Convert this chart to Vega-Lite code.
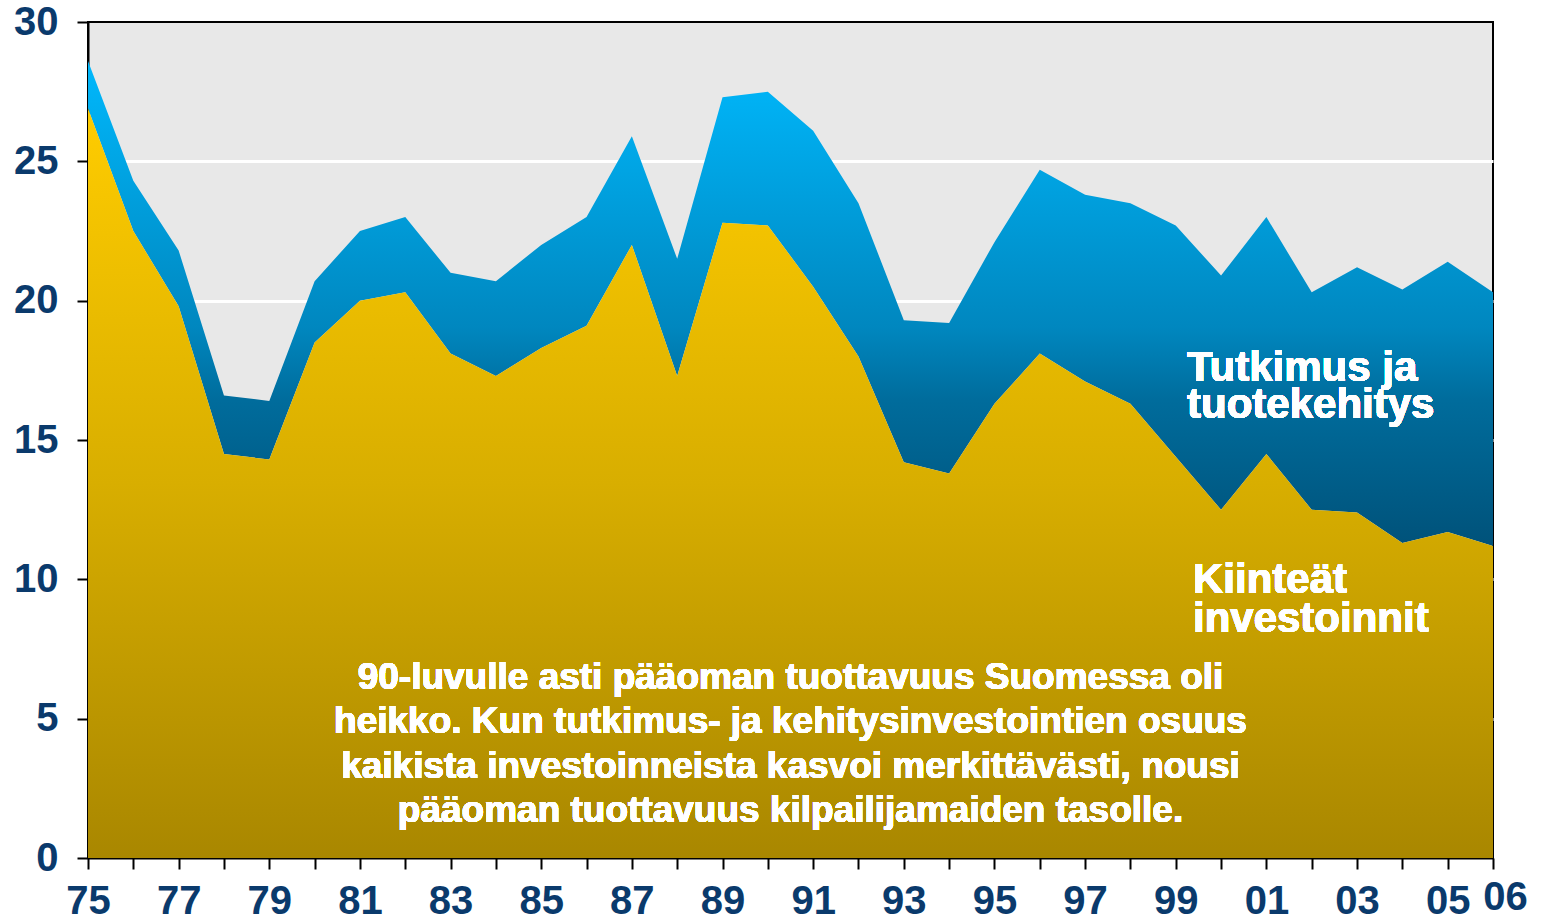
{
  "$schema": "https://vega.github.io/schema/vega-lite/v6.json",
  "width": 1405,
  "height": 836,
  "autosize": {"type": "none"},
  "padding": {"left": 88, "top": 22, "right": 50, "bottom": 65},
  "background": "white",
  "config": {
    "view": {"fill": "#E8E8E8", "stroke": "#000000", "strokeWidth": 2},
    "font": "Liberation Sans"
  },
  "data": {
    "values": [
      {"year": 1975, "fixed": 26.9, "total": 28.6},
      {"year": 1976, "fixed": 22.5, "total": 24.3},
      {"year": 1977, "fixed": 19.8, "total": 21.8},
      {"year": 1978, "fixed": 14.5, "total": 16.6},
      {"year": 1979, "fixed": 14.3, "total": 16.4},
      {"year": 1980, "fixed": 18.5, "total": 20.7},
      {"year": 1981, "fixed": 20.0, "total": 22.5},
      {"year": 1982, "fixed": 20.3, "total": 23.0},
      {"year": 1983, "fixed": 18.1, "total": 21.0},
      {"year": 1984, "fixed": 17.3, "total": 20.7},
      {"year": 1985, "fixed": 18.3, "total": 22.0},
      {"year": 1986, "fixed": 19.1, "total": 23.0},
      {"year": 1987, "fixed": 22.0, "total": 25.9},
      {"year": 1988, "fixed": 17.3, "total": 21.5},
      {"year": 1989, "fixed": 22.8, "total": 27.3},
      {"year": 1990, "fixed": 22.7, "total": 27.5},
      {"year": 1991, "fixed": 20.5, "total": 26.1},
      {"year": 1992, "fixed": 18.0, "total": 23.5},
      {"year": 1993, "fixed": 14.2, "total": 19.3},
      {"year": 1994, "fixed": 13.8, "total": 19.2},
      {"year": 1995, "fixed": 16.3, "total": 22.1},
      {"year": 1996, "fixed": 18.1, "total": 24.7},
      {"year": 1997, "fixed": 17.1, "total": 23.8},
      {"year": 1998, "fixed": 16.3, "total": 23.5},
      {"year": 1999, "fixed": 14.4, "total": 22.7},
      {"year": 2000, "fixed": 12.5, "total": 20.9},
      {"year": 2001, "fixed": 14.5, "total": 23.0},
      {"year": 2002, "fixed": 12.5, "total": 20.3},
      {"year": 2003, "fixed": 12.4, "total": 21.2},
      {"year": 2004, "fixed": 11.3, "total": 20.4},
      {"year": 2005, "fixed": 11.7, "total": 21.4},
      {"year": 2006, "fixed": 11.2, "total": 20.3}
    ]
  },
  "encoding": {
    "x": {
      "field": "year",
      "type": "quantitative",
      "scale": {"domain": [1975, 2006], "nice": false, "zero": false},
      "axis": {
        "title": null,
        "grid": false,
        "values": [1975,1976,1977,1978,1979,1980,1981,1982,1983,1984,1985,1986,1987,1988,1989,1990,1991,1992,1993,1994,1995,1996,1997,1998,1999,2000,2001,2002,2003,2004,2005,2006],
        "labelExpr": "(datum.value % 2 == 1 || datum.value == 2006) ? slice('' + datum.value, 2) : ''",
        "labelOverlap": false,
        "labelFlush": false,
        "domainColor": "#000000",
        "domainWidth": 2,
        "tickColor": "#000000",
        "tickWidth": 2,
        "tickSize": 11,
        "labelFont": "Liberation Sans",
        "labelFontSize": 40,
        "labelFontWeight": "bold",
        "labelColor": "#0A3A6C",
        "labelPadding": {"condition": {"test": "datum.value == 2006", "value": 8}, "value": 12},
        "labelOffset": {"condition": {"test": "datum.value == 2006", "value": 12}, "value": 0}
      }
    }
  },
  "layer": [
    {
      "mark": {
        "type": "area",
        "color": {
          "gradient": "linear",
          "x1": 0, "y1": 0, "x2": 0, "y2": 1,
          "stops": [
            {"offset": 0, "color": "#00B8FC"},
            {"offset": 0.55, "color": "#0087BF"},
            {"offset": 0.7, "color": "#006C9C"},
            {"offset": 1, "color": "#00527A"}
          ]
        }
      },
      "encoding": {
        "y": {
          "field": "total",
          "type": "quantitative",
          "scale": {"domain": [0, 30], "nice": false},
          "axis": {
            "title": null,
            "values": [0, 5, 10, 15, 20, 25, 30],
            "grid": true,
            "gridColor": "#FFFFFF",
            "gridWidth": 3,
            "gridOpacity": {"condition": {"test": "datum.value == 0 || datum.value == 30", "value": 0}, "value": 1},
            "domainColor": "#000000",
            "domainWidth": 2,
            "tickColor": "#000000",
            "tickWidth": 2,
            "tickSize": 11,
            "labelFont": "Liberation Sans",
            "labelFontSize": 40,
            "labelFontWeight": "bold",
            "labelColor": "#0A3A6C",
            "labelPadding": 19
          }
        },
        "y2": {"field": "fixed"}
      }
    },
    {
      "mark": {
        "type": "area",
        "color": {
          "gradient": "linear",
          "x1": 0, "y1": 0, "x2": 0, "y2": 1,
          "stops": [
            {"offset": 0, "color": "#FFCC00"},
            {"offset": 0.5, "color": "#D8AE00"},
            {"offset": 1, "color": "#A98700"}
          ]
        }
      },
      "encoding": {
        "y": {"field": "fixed", "type": "quantitative"},
        "y2": {"datum": 0}
      }
    },
    {
      "mark": {"type": "text", "align": "left", "baseline": "alphabetic", "fontSize": 42, "fontWeight": "bold", "color": "#FFFFFF", "lineHeight": 37, "font": "Liberation Sans"},
      "encoding": {
        "x": {"datum": 1999.25, "type": "quantitative"},
        "y": {"datum": 17.12, "type": "quantitative"},
        "text": {"value": ["Tutkimus ja", "tuotekehitys"]}
      }
    },
    {
      "mark": {"type": "text", "align": "left", "baseline": "alphabetic", "fontSize": 42, "fontWeight": "bold", "color": "#FFFFFF", "lineHeight": 39, "font": "Liberation Sans"},
      "encoding": {
        "x": {"datum": 1999.38, "type": "quantitative"},
        "y": {"datum": 9.51, "type": "quantitative"},
        "text": {"value": ["Kiinteät", "investoinnit"]}
      }
    },
    {
      "mark": {"type": "text", "align": "center", "baseline": "alphabetic", "fontSize": 37, "fontWeight": "bold", "color": "#FFFFFF", "lineHeight": 44.3, "font": "Liberation Sans"},
      "encoding": {
        "x": {"datum": 1990.5, "type": "quantitative"},
        "y": {"datum": 6.06, "type": "quantitative"},
        "text": {"value": ["90-luvulle asti pääoman tuottavuus Suomessa oli", "heikko. Kun tutkimus- ja kehitysinvestointien osuus", "kaikista investoinneista kasvoi merkittävästi, nousi", "pääoman tuottavuus kilpailijamaiden tasolle."]}
      }
    }
  ]
}
